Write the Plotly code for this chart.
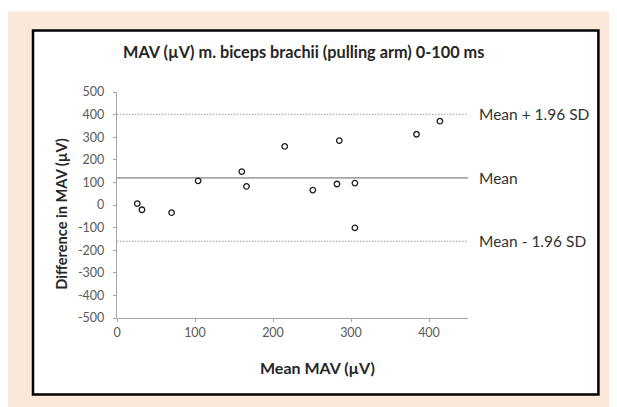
import plotly.graph_objects as go

# Data
mean_mav = [26, 32, 70, 104, 160, 166, 215, 251, 282, 285, 305, 305, 384, 414]
diff_mav = [6, -21, -34, 107, 148, 82, 259, 66, 93, 285, 97, -101, 313, 371]

mean_line = 120
upper_loa = 401
lower_loa = -161

x_ticks = [0, 100, 200, 300, 400]
y_ticks = [-500, -400, -300, -200, -100, 0, 100, 200, 300, 400, 500]
y_ticktext = [str(v) for v in y_ticks]

title_text = "MAV (µV) m. biceps brachii (pulling arm) 0-100 ms"
x_title = "Mean MAV (µV)"
y_title = "Difference in MAV (µV)"
line_labels = ["Mean + 1.96 SD", "Mean", "Mean - 1.96 SD"]

FONT = "Lato"
W, H = 617, 407
OFF = 8  # page body margin
# plot area in screen pixels
SL, SR, ST, SB = 117.3, 468.3, 91.7, 318.3
L, R, T, B = SL - OFF, SR - OFF, ST - OFF, SB - OFF


def px(x):
    """screen pixel x -> paper fraction"""
    return (x - SL) / (SR - SL)


def py(y):
    """screen pixel y -> paper fraction"""
    return (SB - y) / (SB - ST)


fig = go.Figure()

# reference lines
for yv in (upper_loa, lower_loa):
    fig.add_trace(go.Scatter(x=[0, 450], y=[yv, yv], mode="lines",
                             line=dict(color="#B0B0B0", width=1.3, dash="1.5px,1.5px"),
                             hoverinfo="skip", showlegend=False))
fig.add_trace(go.Scatter(x=[0, 450], y=[mean_line, mean_line], mode="lines",
                         line=dict(color="#A6A6A6", width=1.6),
                         hoverinfo="skip", showlegend=False))

fig.add_trace(go.Scatter(x=mean_mav, y=diff_mav, mode="markers",
                         marker=dict(symbol="circle-open", size=5.5,
                                     color="#1a1a1a", line=dict(width=1.3, color="#1a1a1a")),
                         showlegend=False))

shapes = [
    dict(type="rect", xref="paper", yref="paper",
         x0=px(8), x1=px(700), y0=py(480), y1=py(11),
         fillcolor="#FCE8DA", line=dict(width=0), layer="below"),
    dict(type="rect", xref="paper", yref="paper",
         x0=px(33.3), x1=px(598.7), y0=py(395), y1=py(30),
         fillcolor="white", line=dict(color="black", width=2.5), layer="below"),
]

annotations = [
    dict(text=title_text, xref="paper", yref="paper", x=px(304), y=py(51),
         xanchor="center", yanchor="middle", showarrow=False,
         font=dict(family=FONT, size=16.3, color="#262626", weight="bold")),
    dict(text=x_title, xref="paper", yref="paper", x=px(317.5), y=py(368),
         xanchor="center", yanchor="middle", showarrow=False,
         font=dict(family=FONT, size=16, color="#262626", weight="bold")),
    dict(text=y_title, xref="paper", yref="paper", x=px(62), y=py(214),
         xanchor="center", yanchor="middle", showarrow=False, textangle=-90,
         font=dict(family=FONT, size=14.6, color="#262626", weight="bold")),
]
for lab, yv in zip(line_labels, [upper_loa, mean_line, lower_loa]):
    annotations.append(dict(text=lab, x=px(477.5), y=yv, xref="paper", yref="y",
                            xanchor="left", yanchor="middle", showarrow=False,
                            font=dict(family=FONT, size=15.5, color="#333333")))

fig.update_layout(
    width=W, height=H,
    margin=dict(l=L, r=W - R, t=T, b=H - B, pad=0),
    paper_bgcolor="white", plot_bgcolor="rgba(0,0,0,0)",
    shapes=shapes, annotations=annotations,
    font=dict(family=FONT, color="#595959", size=12.5),
    xaxis=dict(range=[0, 450], tickvals=x_ticks, showgrid=False, zeroline=False,
               showline=True, linecolor="#A6A6A6", linewidth=1.3,
               ticks="outside", ticklen=3, tickcolor="#A6A6A6",
               tickfont=dict(family=FONT, size=12.5, color="#595959")),
    yaxis=dict(range=[-500, 500], tickvals=y_ticks, ticktext=y_ticktext,
               showgrid=False, zeroline=False,
               showline=True, linecolor="#A6A6A6", linewidth=1.3,
               ticks="outside", ticklen=3, tickcolor="#A6A6A6",
               ticklabelstandoff=6,
               tickfont=dict(family=FONT, size=12.5, color="#595959")),
)

fig.write_html("out.html")
